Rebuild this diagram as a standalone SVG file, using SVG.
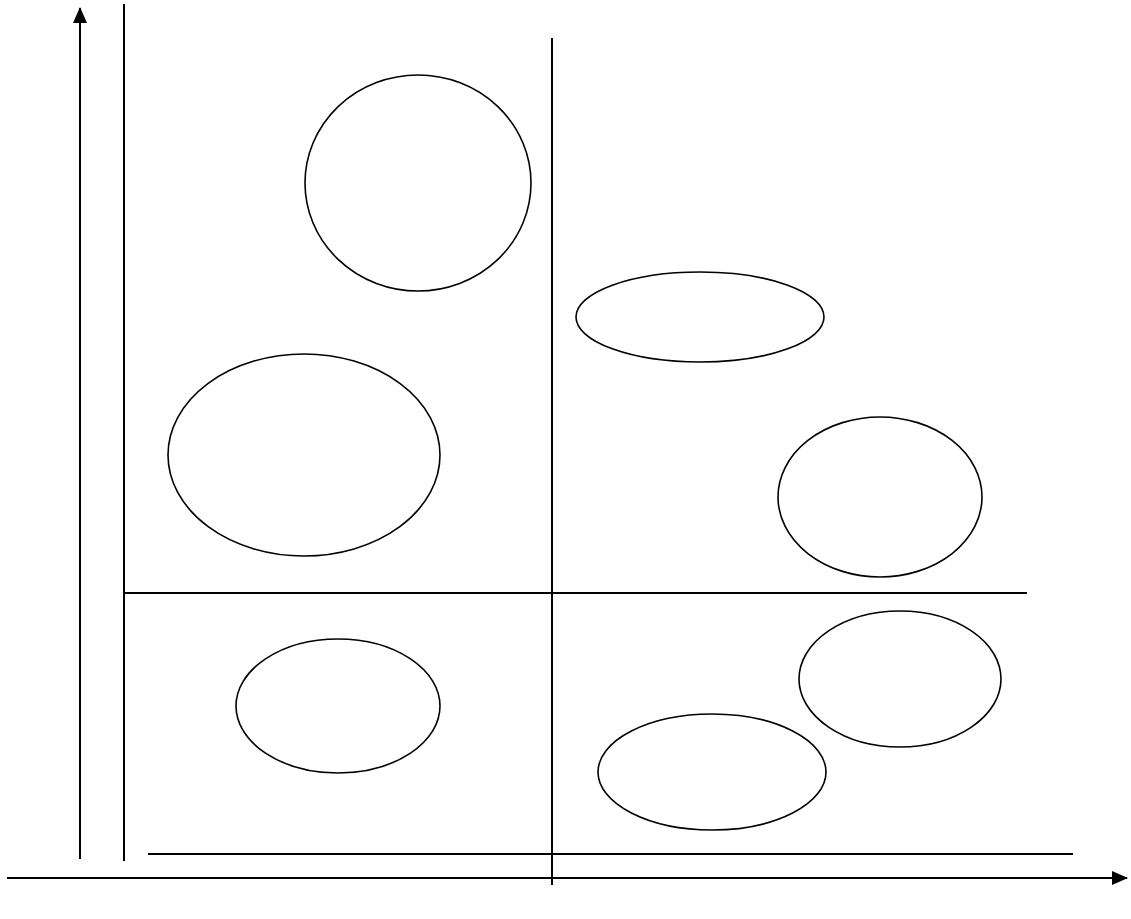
<svg xmlns="http://www.w3.org/2000/svg" width="1131" height="919" viewBox="0 0 1131 919">
<style>
.n{fill:#fff;stroke:#000;stroke-width:1.6}
.l{stroke:#000;stroke-width:2;fill:none}
</style>
<defs>
<marker id="ah" markerWidth="10" markerHeight="8" refX="9" refY="4" orient="auto" markerUnits="userSpaceOnUse" viewBox="0 0 10 8">
<path d="M0,0 L10,4 L0,8 Z" fill="#000"/>
</marker>
<marker id="ah2" markerWidth="16" markerHeight="14" refX="15" refY="7" orient="auto" markerUnits="userSpaceOnUse" viewBox="0 0 16 14">
<path d="M0,0 L16,7 L0,14 Z" fill="#000"/>
</marker>
</defs>
<rect width="1131" height="919" fill="#fff"/>
<g id="connectors">
<line class="l" x1="80" y1="859" x2="80" y2="8" marker-end="url(#ah2)"/>
<line class="l" x1="124" y1="4" x2="124" y2="861"/>
<line class="l" x1="552" y1="38" x2="552" y2="885"/>
<line class="l" x1="124" y1="593" x2="1027" y2="593"/>
<line class="l" x1="148" y1="854" x2="1073" y2="854"/>
<line class="l" x1="7" y1="878" x2="1127" y2="878" marker-end="url(#ah2)"/>
</g>
<g id="n1"><ellipse class="n" cx="418" cy="183" rx="113" ry="108"/></g>
<g id="n2"><ellipse class="n" cx="700" cy="317" rx="124" ry="45"/></g>
<g id="n3"><ellipse class="n" cx="304" cy="455" rx="136" ry="101"/></g>
<g id="n4"><ellipse class="n" cx="880" cy="497" rx="102" ry="80"/></g>
<g id="n5"><ellipse class="n" cx="338" cy="706" rx="102" ry="67"/></g>
<g id="n6"><ellipse class="n" cx="900" cy="679" rx="101" ry="68"/></g>
<g id="n7"><ellipse class="n" cx="712" cy="772" rx="114" ry="58"/></g>
</svg>
